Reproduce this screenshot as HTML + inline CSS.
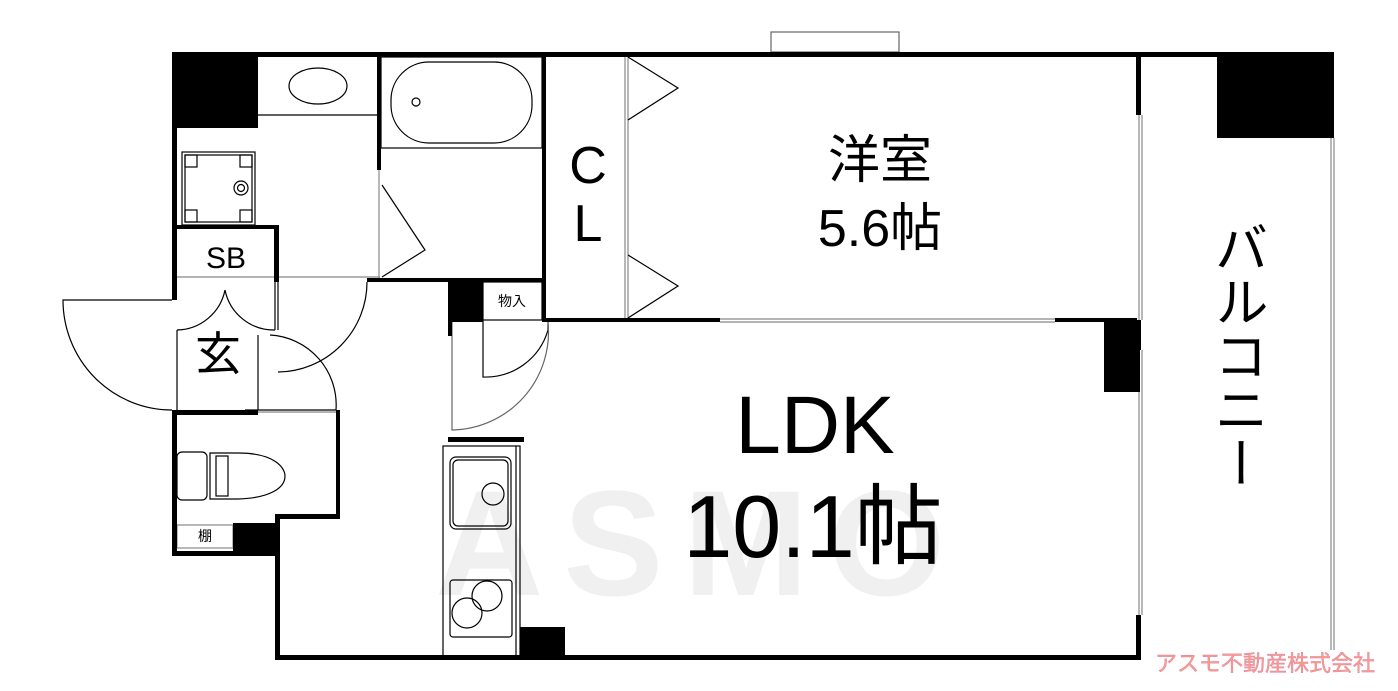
<!DOCTYPE html>
<html><head><meta charset="utf-8"><style>
body{margin:0;background:#fff;}
svg{display:block;}
text{font-family:"Liberation Sans","Noto Sans CJK JP",sans-serif;}
</style></head><body>
<svg width="1398" height="691" viewBox="0 0 1398 691" xmlns="http://www.w3.org/2000/svg">
<text x="700" y="595" font-size="150" fill="#f0f0f0" text-anchor="middle" font-weight="bold" letter-spacing="20">ASMO</text>
<g fill="none" stroke="#000" stroke-width="1.2">
<rect x="771" y="32" width="128" height="20" stroke="#666"/>
<line x1="258" y1="115" x2="378" y2="115"/>
<ellipse cx="318" cy="86" rx="29" ry="18"/>
<rect x="381" y="57" width="161" height="91"/>
<rect x="391" y="62" width="141" height="81" rx="38"/>
<circle cx="416" cy="102" r="4"/>
<rect x="182" y="152" width="73" height="73"/><rect x="185" y="155" width="67" height="67"/>
<rect x="185" y="155" width="12" height="12"/><rect x="240" y="155" width="12" height="12"/>
<rect x="185" y="210" width="12" height="12"/><rect x="240" y="210" width="12" height="12"/>
<circle cx="241" cy="188" r="7"/><circle cx="241" cy="188" r="3.5"/>
<line x1="379" y1="170" x2="379" y2="278" stroke="#888"/>
<polyline points="382,185 425,250 382,277"/>
<line x1="177" y1="277" x2="380" y2="277" stroke="#888"/>
<path d="M172,300 L63,300 A109,110 0 0 0 172,410"/>
<path d="M177,330 A50,50 0 0 0 225,290 M225,290 A50,50 0 0 0 275,330 M177,330 L177,410 M275,330 L275,280"/>
<path d="M258,335 L258,410 M258,410 L245,410 M270,335 A70,70 0 0 1 336,410 L258,410"/>
<path d="M278,280 L278,330 M367,282 A90,90 0 0 1 278,372"/>
<line x1="258" y1="412" x2="338" y2="412" stroke="#888"/>
<rect x="177" y="452" width="30" height="48" rx="5"/>
<path d="M210,453 L238,453 C275,453 285,468 285,476 C285,488 270,498 238,499 L210,499 Z"/>
<rect x="216" y="456" width="12" height="40"/>
<rect x="177" y="525" width="56" height="23" stroke="#888"/>
<line x1="625" y1="57" x2="625" y2="318" stroke="#888"/><line x1="628" y1="57" x2="628" y2="318" stroke="#888"/>
<polyline points="628,57 678,88 628,120"/>
<polyline points="628,255 678,286 628,318"/>
<line x1="720" y1="319" x2="1055" y2="319" stroke="#888"/><line x1="720" y1="322" x2="1055" y2="322" stroke="#888"/>
<rect x="483" y="282" width="59" height="38"/>
<path d="M483,320 L483,377 A65,65 0 0 0 548,330 L548,320"/>
<path d="M452,322 L452,430 A98,98 0 0 0 548,322" stroke="#666"/>
<rect x="443" y="446" width="77" height="210"/>
<line x1="516" y1="446" x2="516" y2="656"/>
<rect x="450" y="457" width="61" height="72" rx="6"/>
<rect x="453" y="460" width="55" height="66" rx="5"/>
<circle cx="493" cy="494" r="11"/>
<rect x="450" y="580" width="62" height="57" rx="3"/>
<circle cx="487" cy="596" r="15"/><circle cx="467" cy="613" r="15"/>
<line x1="1139" y1="115" x2="1139" y2="320" stroke="#888"/><line x1="1142" y1="115" x2="1142" y2="320" stroke="#888"/>
<line x1="1139" y1="350" x2="1139" y2="615" stroke="#888"/><line x1="1142" y1="350" x2="1142" y2="615" stroke="#888"/>
<line x1="1331" y1="138" x2="1331" y2="650" stroke="#888"/><line x1="1334" y1="138" x2="1334" y2="650" stroke="#888"/>
</g>
<g fill="#000">
<rect x="172" y="52" width="1162" height="5"/>
<rect x="172" y="52" width="5" height="248"/>
<rect x="172" y="410" width="5" height="145"/>
<rect x="172" y="551" width="106" height="5"/>
<rect x="172" y="52" width="86" height="76"/>
<rect x="1217" y="52" width="117" height="86"/>
<rect x="1136" y="52" width="5" height="63"/>
<rect x="1136" y="320" width="5" height="30"/>
<rect x="1136" y="615" width="5" height="45"/>
<rect x="1104" y="320" width="36" height="72"/>
<rect x="275" y="655" width="866" height="5"/>
<rect x="275" y="514" width="5" height="146"/>
<rect x="275" y="514" width="65" height="5"/>
<rect x="336" y="410" width="4" height="109"/>
<rect x="172" y="410" width="86" height="5"/>
<rect x="233" y="523" width="46" height="33"/>
<rect x="377" y="52" width="4" height="118"/>
<rect x="542" y="52" width="4" height="270"/>
<rect x="367" y="278" width="179" height="4"/>
<rect x="177" y="225" width="102" height="4"/>
<rect x="274" y="225" width="5" height="57"/>
<rect x="546" y="318" width="174" height="4"/>
<rect x="1055" y="318" width="82" height="4"/>
<rect x="448" y="282" width="35" height="40"/>
<rect x="448" y="322" width="4" height="14"/>
<rect x="448" y="437" width="76" height="5"/>
<rect x="520" y="627" width="45" height="33"/>
</g>
<text x="226" y="268" font-size="30" text-anchor="middle">SB</text>
<text x="218" y="370" font-size="46" text-anchor="middle">玄</text>
<text x="205" y="541" font-size="14" text-anchor="middle">棚</text>
<text x="512" y="306" font-size="14" text-anchor="middle">物入</text>
<text x="588" y="183" font-size="52" text-anchor="middle">C</text>
<text x="588" y="241" font-size="52" text-anchor="middle">L</text>
<text x="880" y="178" font-size="52" text-anchor="middle">洋室</text>
<text x="880" y="246" font-size="52" text-anchor="middle">5.6帖</text>
<text x="815" y="453" font-size="82" text-anchor="middle">LDK</text>
<text x="813" y="557" font-size="88" text-anchor="middle">10.1帖</text>
<text x="1236" y="355" font-size="54" text-anchor="middle" writing-mode="tb">バルコニー</text>
<text x="1265" y="671" font-size="22" text-anchor="middle" fill="#f7a080" stroke="#e07ab0" stroke-width="0.4">アスモ不動産株式会社</text>
</svg>
</body></html>
